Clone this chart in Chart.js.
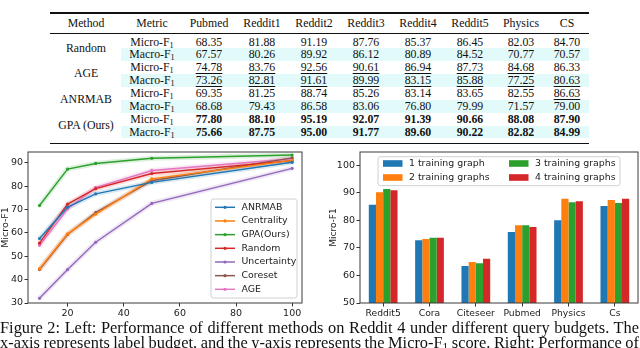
<!DOCTYPE html>
<html>
<head>
<meta charset="utf-8">
<script src="https://cdn.jsdelivr.net/npm/chart.js@4.4.1/dist/chart.umd.min.js"></script>
<style>
  html, body { margin: 0; padding: 0; background: #fff; }
  #page { position: relative; width: 640px; height: 348px; overflow: hidden; font-family: "Liberation Serif", serif; color: #111; }
  .rule { position: absolute; left: 50px; width: 539px; background: #111; }
  .shade { position: absolute; left: 121px; width: 468px; background: #e2fafa; }
  .cell { position: absolute; width: 60px; margin-left: -30px; text-align: center; font-size: 11.8px; white-space: nowrap; }
  .u { text-decoration: underline; text-decoration-thickness: 0.8px; text-underline-offset: 1.5px; }
  .b { font-weight: bold; }
  sub { font-size: 0.7em; vertical-align: -0.25em; line-height: 0; }
  canvas { position: absolute; }
  .cap { position: absolute; left: 0; font-size: 14px; line-height: 15px; white-space: nowrap; }
</style>
</head>
<body>
<div id="page">
  <div id="table"></div>
  <canvas id="budgetChart" width="312" height="180" style="left:0;top:140px;"></canvas>
  <canvas id="graphsChart" width="320" height="180" style="left:320px;top:140px;"></canvas>
  <div class="cap" id="cap1" style="top:320px;">Figure 2: Left: Performance of different methods on Reddit 4 under different query budgets. The</div>
  <div class="cap" id="cap2" style="top:335px;">x-axis represents label budget, and the y-axis represents the Micro-F<sub>1</sub> score. Right: Performance of</div>
</div>
<script>
// ---- table data ----
const tableCols = ['Pubmed', 'Reddit1', 'Reddit2', 'Reddit3', 'Reddit4', 'Reddit5', 'Physics', 'CS'];
const tableMethods = ['Random', 'AGE', 'ANRMAB', 'GPA (Ours)'];
const randomMicro = [68.35, 81.88, 91.19, 87.76, 85.37, 86.45, 82.03, 84.70];
const randomMacro = [67.57, 80.26, 89.92, 86.12, 80.89, 84.52, 70.77, 70.57];
const ageMicro = [74.78, 83.76, 92.56, 90.61, 86.94, 87.73, 84.68, 86.33];
const ageMacro = [73.26, 82.81, 91.61, 89.99, 83.15, 85.88, 77.25, 80.63];
const anrmabMicro = [69.35, 81.25, 88.74, 85.26, 83.14, 83.65, 82.55, 86.63];
const anrmabMacro = [68.68, 79.43, 86.58, 83.06, 76.80, 79.99, 71.57, 79.00];
const gpaMicro = [77.80, 88.10, 95.19, 92.07, 91.39, 90.66, 88.08, 87.90];
const gpaMacro = [75.66, 87.75, 95.00, 91.77, 89.60, 90.22, 82.82, 84.99];
// second best (underlined) flags
const ageMicroUnder = [1, 1, 1, 1, 1, 1, 1, 0];
const ageMacroUnder = [1, 1, 1, 1, 1, 1, 1, 1];
const anrmabMicroUnder = [0, 0, 0, 0, 0, 0, 0, 1];

// ---- left chart data ----
const budgets = [10, 20, 30, 50, 100];
const budgetTicks = [20, 40, 60, 80, 100];
const f1Ticks = [30, 40, 50, 60, 70, 80, 90];
const anrmab = [57.6, 71.0, 76.7, 81.6, 90.2];
const centrality = [44.6, 59.6, 68.0, 83.1, 91.0];
const gpa = [71.7, 87.3, 89.7, 91.9, 93.3];
const random = [55.6, 72.3, 78.9, 85.4, 90.9];
const uncertainty = [32.0, 44.3, 56.0, 72.6, 87.6];
const coreset = [44.3, 59.3, 68.7, 82.3, 92.1];
const age = [54.6, 70.2, 79.4, 86.7, 91.7];

// ---- right chart data ----
const graphDatasets = ['Reddit5', 'Cora', 'Citeseer', 'Pubmed', 'Physics', 'Cs'];
const oneGraph = [85.7, 72.8, 63.4, 75.8, 80.0, 85.2];
const twoGraphs = [90.2, 73.2, 64.9, 78.2, 87.8, 87.4];
const threeGraphs = [91.4, 73.7, 64.4, 78.2, 86.6, 86.3];
const fourGraphs = [90.9, 73.7, 66.1, 77.6, 86.9, 87.8];
const barTicks = [50, 60, 70, 80, 90, 100];

const blue = '#1f77b4', orange = '#ff7f0e', green = '#2ca02c', red = '#d62728',
      purple = '#9467bd', brown = '#8c564b', pink = '#e377c2';

// ---- build table ----
const table = document.getElementById('table');
const colX = [86, 152, 209, 262, 314, 366, 418, 470, 521, 567];
const rowH = 12.86, rowTop = 35.6;

function addDiv(cls, style, html) {
    const d = document.createElement('div');
    d.className = cls;
    Object.assign(d.style, style);
    if (html !== undefined) d.innerHTML = html;
    table.appendChild(d);
    return d;
}

addDiv('rule', { top: '12.3px', height: '1.5px' });
addDiv('rule', { top: '32.6px', height: '0.8px' });
addDiv('rule', { top: '142.5px', height: '1.5px' });

const header = ['Method', 'Metric'].concat(tableCols);
header.forEach((h, i) => {
    addDiv('cell', { left: colX[i] + 'px', top: '14px', height: '18px', lineHeight: '18px' }, h);
});

const rows = [
    [randomMicro, null], [randomMacro, null],
    [ageMicro, ageMicroUnder], [ageMacro, ageMacroUnder],
    [anrmabMicro, anrmabMicroUnder], [anrmabMacro, null],
    [gpaMicro, null], [gpaMacro, null]
];
rows.forEach((r, i) => {
    const top = rowTop + i * rowH;
    if (i % 2 === 1) addDiv('shade', { top: top + 'px', height: rowH + 'px' });
    const bold = i >= 6;
    const metric = i % 2 === 0 ? 'Micro-F<sub>1</sub>' : 'Macro-F<sub>1</sub>';
    addDiv('cell', { left: colX[1] + 'px', top: top + 'px', height: rowH + 'px', lineHeight: rowH + 'px' }, metric);
    r[0].forEach((v, j) => {
        let cls = 'cell';
        if (bold) cls += ' b';
        const under = r[1] && r[1][j];
        addDiv(cls, { left: colX[j + 2] + 'px', top: top + 'px', height: rowH + 'px', lineHeight: rowH + 'px' },
            under ? '<span class="u">' + v.toFixed(2) + '</span>' : v.toFixed(2));
    });
});
tableMethods.forEach((m, k) => {
    const top = rowTop + k * 2 * rowH;
    addDiv('cell', { left: colX[0] + 'px', width: '80px', marginLeft: '-40px', top: top + 'px', height: (2 * rowH) + 'px', lineHeight: (2 * rowH) + 'px' }, m);
});

// ---- caption: size the font from line 1, then justify both lines ----
const cap1 = document.getElementById('cap1');
const cap2 = document.getElementById('cap2');
const capSize = 14 * 632 / cap1.getBoundingClientRect().width;
[cap1, cap2].forEach(el => {
    el.style.fontSize = capSize + 'px';
    const w = el.getBoundingClientRect().width;
    const spaces = el.textContent.split(' ').length - 1;
    el.style.wordSpacing = ((639 - w) / spaces) + 'px';
});

// ---- shared plugins ----
const framePlugin = {
    id: 'frame',
    afterDatasetsDraw(chart) {
        const { ctx, chartArea: a } = chart;
        ctx.save();
        ctx.strokeStyle = '#3a3a3a';
        ctx.lineWidth = 1;
        ctx.strokeRect(a.left, a.top, a.right - a.left, a.bottom - a.top);
        ctx.restore();
    }
};

function legendBox(ctx, x, y, w, h) {
    ctx.save();
    ctx.fillStyle = 'rgba(255,255,255,0.85)';
    ctx.strokeStyle = '#d0d0d0';
    ctx.lineWidth = 1;
    ctx.beginPath();
    ctx.roundRect(x, y, w, h, 2.5);
    ctx.fill();
    ctx.stroke();
    ctx.restore();
}

const lineLegend = {
    id: 'lineLegend',
    afterDraw(chart) {
        const ctx = chart.ctx;
        const items = chart.data.datasets.filter(d => !d.isBand);
        legendBox(ctx, 211, 59, 86, 99);
        ctx.save();
        ctx.font = '9.4px "DejaVu Sans"';
        ctx.textBaseline = 'middle';
        items.forEach((d, i) => {
            const y = 67.3 + i * 13.67;
            ctx.strokeStyle = d.borderColor;
            ctx.lineWidth = 1.5;
            ctx.beginPath();
            ctx.moveTo(215, y);
            ctx.lineTo(235, y);
            ctx.stroke();
            ctx.fillStyle = d.borderColor;
            ctx.beginPath();
            ctx.arc(225, y, 1.6, 0, Math.PI * 2);
            ctx.fill();
            ctx.fillStyle = '#222';
            ctx.fillText(d.label, 241.5, y);
        });
        ctx.restore();
    }
};

const barLegend = {
    id: 'barLegend',
    afterDraw(chart) {
        const ctx = chart.ctx;
        legendBox(ctx, 58, 16.7, 242, 29);
        ctx.save();
        ctx.font = '9.4px "DejaVu Sans"';
        ctx.textBaseline = 'middle';
        chart.data.datasets.forEach((d, i) => {
            const col = i < 2 ? 0 : 1;
            const row = i % 2;
            const px = col === 0 ? 63 : 189;
            const y = 23.5 + row * 14;
            ctx.fillStyle = d.backgroundColor;
            ctx.fillRect(px, y - 3.3, 19.5, 6.6);
            ctx.fillStyle = '#222';
            ctx.fillText(d.label, px + 26, y);
        });
        ctx.restore();
    }
};

const tickFont = { family: 'DejaVu Sans', size: 9.5 };

// ---- left: label budget lines ----
const seriesList = [
    ['ANRMAB', anrmab, blue],
    ['Centrality', centrality, orange],
    ['GPA(Ours)', gpa, green],
    ['Random', random, red],
    ['Uncertainty', uncertainty, purple],
    ['Coreset', coreset, brown],
    ['AGE', age, pink]
];

function withAlpha(hex, a) {
    const n = parseInt(hex.slice(1), 16);
    return 'rgba(' + (n >> 16) + ',' + ((n >> 8) & 255) + ',' + (n & 255) + ',' + a + ')';
}

const lineSets = seriesList.map(([label, values, color]) => ({
    label: label,
    data: budgets.map((b, i) => ({ x: b, y: values[i] })),
    borderColor: color,
    backgroundColor: color,
    borderWidth: 1.4,
    pointRadius: 1.6,
    pointBorderWidth: 0,
    order: 0
}));
const bandSets = seriesList.map(([label, values, color]) => ({
    label: label + ' band',
    isBand: true,
    data: budgets.map((b, i) => ({ x: b, y: values[i] })),
    borderColor: withAlpha(color, 0.16),
    borderWidth: 5,
    pointRadius: 0,
    order: 1
}));

new Chart(document.getElementById('budgetChart'), {
    type: 'line',
    data: { datasets: lineSets.concat(bandSets) },
    options: {
        responsive: false,
        animation: false,
        devicePixelRatio: 1,
        layout: { padding: { top: 12, right: 10, left: 0, bottom: 0 } },
        plugins: { legend: { display: false }, tooltip: { enabled: false } },
        scales: {
            x: {
                type: 'linear', min: 5.9, max: 103.5,
                afterBuildTicks: s => { s.ticks = budgetTicks.map(v => ({ value: v })); },
                afterFit: s => { s.height = 17; },
                grid: { drawOnChartArea: false, drawTicks: true, tickLength: 3.5, color: '#333' },
                border: { display: false },
                ticks: { font: tickFont, color: '#222', padding: 1.5, maxRotation: 0 }
            },
            y: {
                min: 30, max: 94.6,
                afterBuildTicks: s => { s.ticks = f1Ticks.map(v => ({ value: v })); },
                afterFit: s => { s.width = 28; },
                grid: { drawOnChartArea: false, drawTicks: true, tickLength: 3.5, color: '#333' },
                border: { display: false },
                title: { display: true, text: 'Micro-F1', font: tickFont, color: '#222', padding: 0 },
                ticks: { font: tickFont, color: '#222', padding: 1.5 }
            }
        }
    },
    plugins: [framePlugin, lineLegend]
});

// ---- right: number of training graphs ----
new Chart(document.getElementById('graphsChart'), {
    type: 'bar',
    data: {
        labels: graphDatasets,
        datasets: [
            { label: '1 training graph', data: oneGraph, backgroundColor: blue },
            { label: '2 training graphs', data: twoGraphs, backgroundColor: orange },
            { label: '3 training graphs', data: threeGraphs, backgroundColor: green },
            { label: '4 training graphs', data: fourGraphs, backgroundColor: red }
        ]
    },
    options: {
        responsive: false,
        animation: false,
        devicePixelRatio: 1,
        layout: { padding: { top: 12, right: 2, left: 8, bottom: 0 } },
        datasets: { bar: { categoryPercentage: 0.62, barPercentage: 1.0, borderWidth: 0 } },
        plugins: { legend: { display: false }, tooltip: { enabled: false } },
        scales: {
            x: {
                afterFit: s => { s.height = 17; },
                grid: { offset: false, drawOnChartArea: false, drawTicks: true, tickLength: 3.5, color: '#333' },
                border: { display: false },
                ticks: { font: { family: 'DejaVu Sans', size: 9.2 }, color: '#222', padding: 1.5, maxRotation: 0, autoSkip: false }
            },
            y: {
                min: 50, max: 104.8,
                afterBuildTicks: s => { s.ticks = barTicks.map(v => ({ value: v })); },
                afterFit: s => { s.width = 32; },
                grid: { drawOnChartArea: false, drawTicks: true, tickLength: 3.5, color: '#333' },
                border: { display: false },
                title: { display: true, text: 'Micro-F1', font: { family: 'DejaVu Sans', size: 9 }, color: '#222', padding: 0 },
                ticks: { font: tickFont, color: '#222', padding: 1.5 }
            }
        }
    },
    plugins: [framePlugin, barLegend]
});
</script>
</body>
</html>
